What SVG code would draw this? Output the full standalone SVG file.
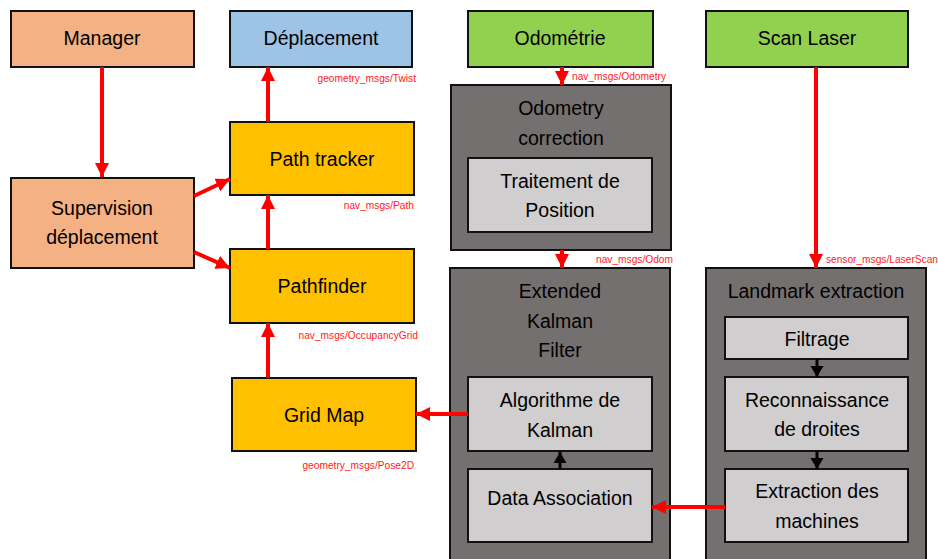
<svg xmlns="http://www.w3.org/2000/svg" width="938" height="559" viewBox="0 0 938 559">
<style>
rect{stroke:#111;stroke-width:2}
.t{font-family:"Liberation Sans",Arial,sans-serif;font-size:19.5px;fill:#000;text-anchor:middle}
.l{font-family:"Liberation Sans",Arial,sans-serif;font-size:10.2px;fill:#ff1a1a;text-anchor:end}
.salmon{fill:#F4B183}.blue{fill:#9DC3E6}.green{fill:#92D050}.orange{fill:#FFC000}.dark{fill:#757070}.light{fill:#D0CECE}
.r{stroke:#ff0000;stroke-width:4;fill:none;marker-end:url(#ar)}
.k{stroke:#000;stroke-width:3;fill:none;marker-end:url(#ak)}
</style>
<defs>
<marker id="ar" markerUnits="userSpaceOnUse" markerWidth="16" markerHeight="16" refX="14" refY="7" orient="auto"><path d="M0,0 L14,7 L0,14 Z" fill="#ff0000"/></marker>
<marker id="ak" markerUnits="userSpaceOnUse" markerWidth="14" markerHeight="14" refX="11" refY="6.5" orient="auto"><path d="M0,0 L11,6.5 L0,13 Z" fill="#000"/></marker>
</defs>
<g id="manager"><rect class="salmon" x="11" y="11" width="183" height="56"/><text class="t" x="102" y="45">Manager</text></g>
<g id="deplacement"><rect class="blue" x="230" y="11" width="182" height="56"/><text class="t" x="321" y="45">Déplacement</text></g>
<g id="odometrie"><rect class="green" x="468" y="11" width="185" height="56"/><text class="t" x="560" y="45">Odométrie</text></g>
<g id="scanlaser"><rect class="green" x="706" y="11" width="202" height="56"/><text class="t" x="807" y="45">Scan Laser</text></g>
<g id="pathtracker"><rect class="orange" x="230" y="122" width="184" height="73"/><text class="t" x="322" y="166">Path tracker</text></g>
<g id="supervision"><rect class="salmon" x="11" y="178" width="183" height="90"/><text class="t" x="102" y="215">Supervision</text><text class="t" x="102" y="244">déplacement</text></g>
<g id="pathfinder"><rect class="orange" x="230" y="249" width="184" height="74"/><text class="t" x="322" y="293">Pathfinder</text></g>
<g id="gridmap"><rect class="orange" x="232" y="378" width="184" height="73"/><text class="t" x="324" y="422">Grid Map</text></g>
<g id="odometrycorrection"><rect class="dark" x="451" y="85" width="220" height="165"/><text class="t" x="561" y="115">Odometry</text><text class="t" x="561" y="145">correction</text></g>
<g id="traitement"><rect class="light" x="468" y="158" width="184" height="74"/><text class="t" x="560" y="188">Traitement de</text><text class="t" x="560" y="217">Position</text></g>
<g id="ekf"><rect class="dark" x="450" y="268" width="220" height="300"/><text class="t" x="560" y="298">Extended</text><text class="t" x="560" y="328">Kalman</text><text class="t" x="560" y="357">Filter</text></g>
<g id="algorithme"><rect class="light" x="468" y="377" width="184" height="74"/><text class="t" x="560" y="407">Algorithme de</text><text class="t" x="560" y="437">Kalman</text></g>
<g id="dataassociation"><rect class="light" x="468" y="469" width="184" height="73"/><text class="t" x="560" y="505">Data Association</text></g>
<g id="landmark"><rect class="dark" x="706" y="268" width="220" height="300"/><text class="t" x="816" y="298">Landmark extraction</text></g>
<g id="filtrage"><rect class="light" x="725" y="317" width="183" height="42"/><text class="t" x="817" y="346">Filtrage</text></g>
<g id="reconnaissance"><rect class="light" x="725" y="377" width="183" height="74"/><text class="t" x="817" y="407">Reconnaissance</text><text class="t" x="817" y="436">de droites</text></g>
<g id="extraction"><rect class="light" x="725" y="469" width="183" height="73"/><text class="t" x="817" y="498">Extraction des</text><text class="t" x="817" y="528">machines</text></g>
<g id="connectors">
<path class="r" d="M102,67 V177"/>
<path class="r" d="M268,122 V67"/>
<path class="r" d="M268,249 V195"/>
<path class="r" d="M194,196 L230,179"/>
<path class="r" d="M194,252 L230,268"/>
<path class="r" d="M268,378 V323"/>
<path class="r" d="M468,414 H416"/>
<path class="r" d="M562,67 V85"/>
<path class="r" d="M562,250 V268"/>
<path class="r" d="M816,67 V268"/>
<path class="r" d="M725,507 H652"/>
<path class="k" d="M560,469 V452"/>
<path class="k" d="M817,359 V377"/>
<path class="k" d="M817,451 V469"/>
</g>
<g id="labels">
<text class="l" x="416" y="82">geometry_msgs/Twist</text>
<text class="l" x="414" y="209">nav_msgs/Path</text>
<text class="l" x="666" y="80">nav_msgs/Odometry</text>
<text class="l" x="673" y="263">nav_msgs/Odom</text>
<text class="l" x="938" y="263">sensor_msgs/LaserScan</text>
<text class="l" x="418" y="339">nav_msgs/OccupancyGrid</text>
<text class="l" x="414" y="469">geometry_msgs/Pose2D</text>
</g>
</svg>
